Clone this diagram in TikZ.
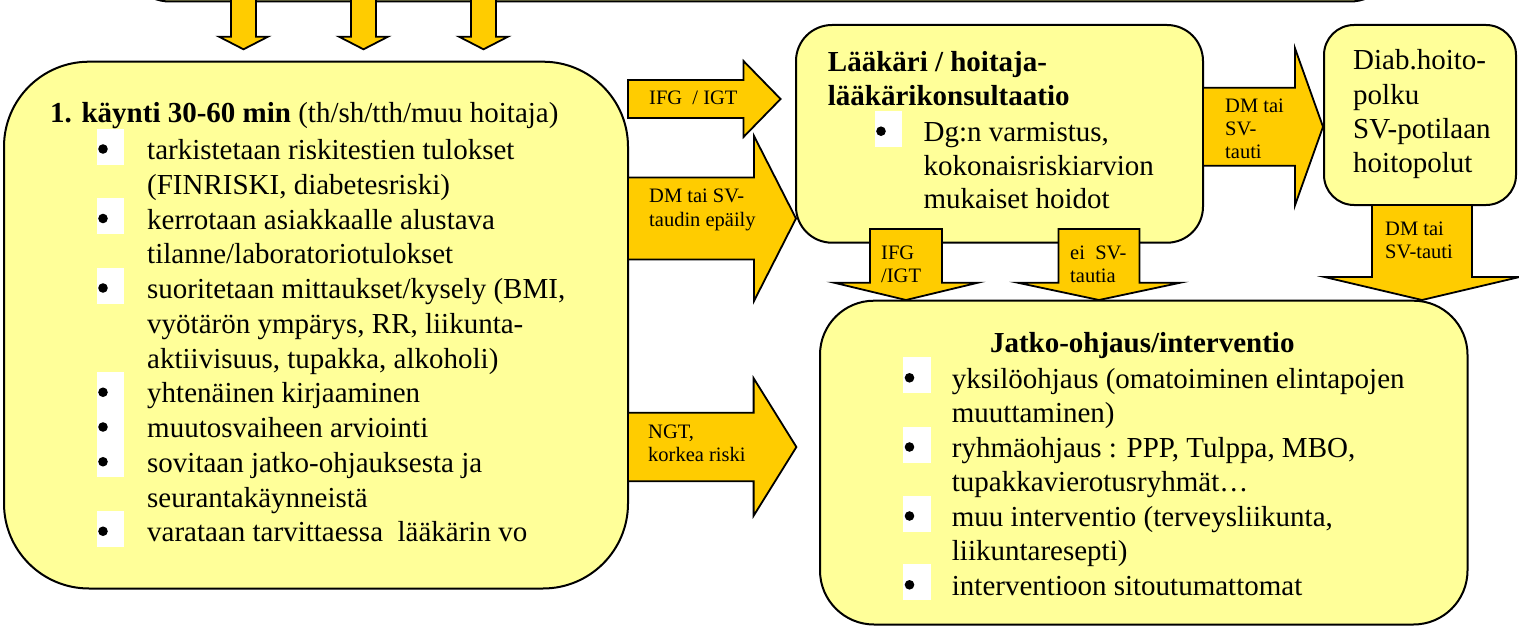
\documentclass[tikz,border=0pt]{standalone}
\usepackage{fontspec}
\setmainfont{Liberation Serif}
\definecolor{boxy}{HTML}{FFFF99}
\definecolor{arry}{HTML}{FFCC00}
\tikzset{
  box/.style={draw=black, line width=2pt, fill=boxy},
  blk/.style={draw=black, line width=1.8pt, fill=arry, line join=miter},
  txt/.style={inner sep=0pt, anchor=base west, font={\fontsize{29}{34.75}\selectfont}},
  txtb/.style={inner sep=0pt, anchor=base west, font={\fontsize{29}{33.4}\selectfont}},
  txtc/.style={inner sep=0pt, anchor=base west, font={\fontsize{29}{34.3}\selectfont}},
  stxt/.style={inner sep=0pt, anchor=base west, font={\fontsize{20.5}{23.5}\selectfont}},
}
\newcommand{\bulmark}[2]{\fill[white] (#1-6.5,#2-31) rectangle (#1+21,#2+5); \fill[black] (#1,#2-10.5) circle (4.8pt);}
\newcommand{\rblk}[6]{\draw[blk] (#1,#4-#5) -- (#2,#4-#5) -- (#2,#4-#6) -- (#3,#4) -- (#2,#4+#6) -- (#2,#4+#5) -- (#1,#4+#5) -- cycle;}
\newcommand{\dblk}[6]{\draw[blk] (#1-#5,#2) -- (#1-#5,#3) -- (#1-#6,#3) -- (#1,#4) -- (#1+#6,#3) -- (#1+#5,#3) -- (#1+#5,#2) -- cycle;}
\begin{document}
\begin{tikzpicture}[x=1pt,y=-1pt]
\useasboundingbox (0,0) rectangle (1519,626);
% top box (only its lower edge shows)
\draw[box, rounded corners=45pt] (125,-90) rectangle (1395,1.5);
% three arrows from the top box
\dblk{243.5}{-3}{36.7}{49.3}{12.5}{24.5}
\dblk{363.5}{-3}{36.7}{49.3}{12.5}{24.5}
\dblk{483.5}{-3}{36.7}{49.3}{12.5}{24.5}
% boxes
\draw[box, rounded corners=85pt] (4,61.7) rectangle (628,588.5);
\draw[box, rounded corners=36pt] (796,25) rectangle (1203,242.7);
\draw[box, rounded corners=30pt] (1324,25) rectangle (1516,205);
\draw[box, rounded corners=54pt] (820,300.7) rectangle (1467.5,624.5);
% block arrows
\rblk{628}{743.5}{780.6}{99}{19}{38}
\rblk{628}{754}{796}{218.5}{41}{82.5}
\rblk{628}{753.6}{796.4}{447}{34.2}{68.8}
\rblk{1203}{1295}{1323}{126.8}{39}{78.5}
\dblk{906}{229}{282.7}{300}{36}{72}
\dblk{1099}{229}{282.7}{300}{40.5}{81.4}
\dblk{1422}{205}{277}{300}{50}{97.5}
% arrow labels
\node[stxt] (a1) at (649,105) {IFG\ \ / IGT};
\node[stxt] (a2) at (649,202.7) {\vtop{\hbox{DM tai SV-}\hbox{taudin epäily}}};
\node[stxt] (a3) at (648,438.3) {\vtop{\hbox{NGT,}\hbox{korkea riski}}};
\node[stxt] (a4) at (1225,112) {\vtop{\hbox{DM tai}\hbox{SV-}\hbox{tauti}}};
\node[stxt] (a5) at (881,259) {\vtop{\hbox{IFG}\hbox{/IGT}}};
\node[stxt] (a6) at (1070,259) {\vtop{\hbox{ei\ \ SV-}\hbox{tautia}}};
\node[stxt] (a7) at (1385,235) {\vtop{\hbox{DM tai}\hbox{SV-tauti}}};
% left box text
\node[txt] (h1) at (50,122) {\textbf{1. käynti 30-60 min} (th/sh/tth/muu hoitaja)};
\bulmark{103}{159.5}
\node[txt] (l1) at (147,159.5) {\vtop{\hbox{tarkistetaan riskitestien tulokset}\hbox{(FINRISKI, diabetesriski)}}};
\bulmark{103}{229}
\node[txt] (l2) at (147,229) {\vtop{\hbox{kerrotaan asiakkaalle alustava}\hbox{tilanne/laboratoriotulokset}}};
\bulmark{103}{298.5}
\node[txt] (l3) at (147,298.5) {\vtop{\hbox{suoritetaan mittaukset/kysely (BMI,}\hbox{vyötärön ympärys, RR, liikunta-}\hbox{aktiivisuus, tupakka, alkoholi)}}};
\bulmark{103}{402.75}
\node[txt] (l4) at (147,402.75) {yhtenäinen kirjaaminen};
\bulmark{103}{437.5}
\node[txt] (l5) at (147,437.5) {muutosvaiheen arviointi};
\bulmark{103}{472.25}
\node[txt] (l6) at (147,472.25) {\vtop{\hbox{sovitaan jatko-ohjauksesta ja}\hbox{seurantakäynneistä}}};
\bulmark{103}{541.75}
\node[txt] (l7) at (147,541.75) {varataan tarvittaessa\ \ lääkärin vo};
% consultation box text
\node[txtb] (h2) at (827.7,71.7) {\vtop{\hbox{\bfseries Lääkäri / hoitaja-}\hbox{\bfseries lääkärikonsultaatio}}};
\bulmark{881}{141.7}
\node[txtb] (c1) at (923.4,141.7) {\vtop{\hbox{Dg:n varmistus,}\hbox{kokonaisriskiarvion}\hbox{mukaiset hoidot}}};
% care path box text
\node[txtc] (d1) at (1353,70) {\vtop{\hbox{Diab.hoito-}\hbox{polku}\hbox{SV-potilaan}\hbox{hoitopolut}}};
% follow-up box text
\node[txtc] (h3) at (989.8,352.7) {\textbf{Jatko-ohjaus/interventio}};
\bulmark{909.5}{388.3}
\node[txtc] (j1) at (951.7,388.3) {\vtop{\hbox{yksilöohjaus (omatoiminen elintapojen}\hbox{muuttaminen)}}};
\bulmark{909.5}{457.5}
\node[txtc] (j2) at (951.7,457.5) {\vtop{\hbox{ryhmäohjaus : PPP, Tulppa, MBO,}\hbox{tupakkavierotusryhmät…}}};
\bulmark{909.5}{526.5}
\node[txtc] (j3) at (951.7,526.5) {\vtop{\hbox{muu interventio (terveysliikunta,}\hbox{liikuntaresepti)}}};
\bulmark{909.5}{595.3}
\node[txtc] (j4) at (951.7,595.3) {interventioon sitoutumattomat};
\end{tikzpicture}
\end{document}
